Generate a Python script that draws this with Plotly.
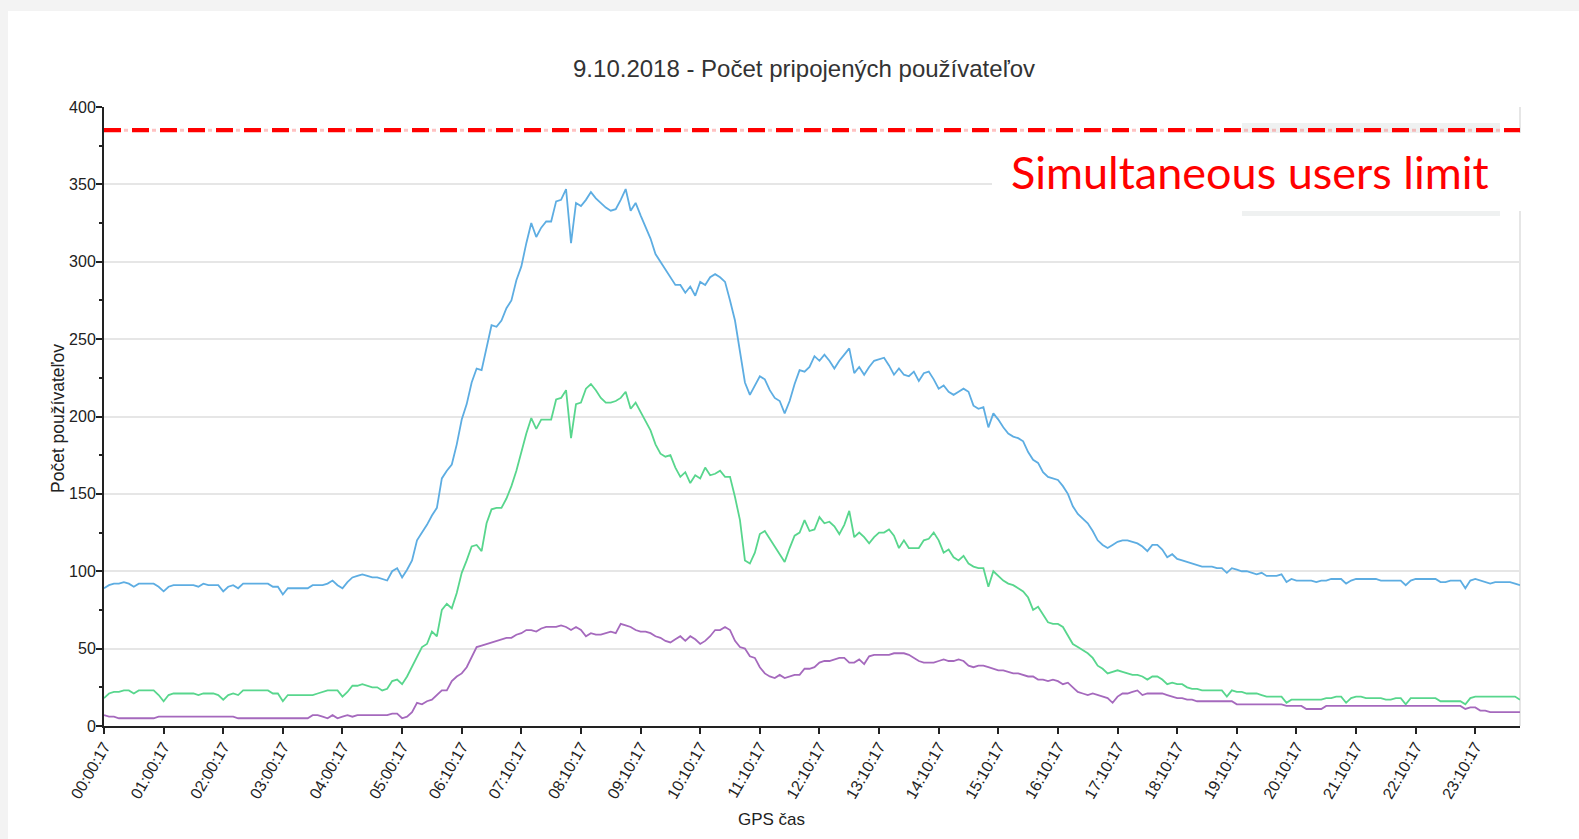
import plotly.graph_objects as go

# ---------------- data ----------------
# category timestamps (5-minute GPS samples; two samples missing around 05:40)
MISSING_MINUTES = [340, 345]
TIMES = [f"{m // 60:02d}:{m % 60:02d}:17" for m in range(0, 24 * 60, 5) if m not in MISSING_MINUTES]

TICK_LABELS = ["00:00:17", "01:00:17", "02:00:17", "03:00:17", "04:00:17", "05:00:17",
               "06:10:17", "07:10:17", "08:10:17", "09:10:17", "10:10:17", "11:10:17",
               "12:10:17", "13:10:17", "14:10:17", "15:10:17", "16:10:17", "17:10:17",
               "18:10:17", "19:10:17", "20:10:17", "21:10:17", "22:10:17", "23:10:17"]

BLUE = [
    89, 91, 92, 92, 93, 92, 90, 92, 92, 92, 92, 90,
    87, 90, 91, 91, 91, 91, 91, 90, 92, 91, 91, 91,
    87, 90, 91, 89, 92, 92, 92, 92, 92, 92, 90, 90,
    85, 89, 89, 89, 89, 89, 91, 91, 91, 92, 94, 91,
    89, 93, 96, 97, 98, 97, 96, 96, 95, 94, 100, 102,
    96, 101, 107, 120, 125, 130, 136, 141, 160, 165, 169, 182,
    198, 208, 222, 231, 230, 245, 259, 258, 262, 270, 275, 288,
    297, 312, 325, 316, 322, 326, 326, 339, 340, 347, 312, 338,
    336, 340, 345, 341, 338, 335, 333, 334, 340, 347, 333, 338,
    330, 322, 315, 305, 300, 295, 290, 285, 285, 280, 284, 278,
    287, 285, 290, 292, 290, 287, 275, 262, 242, 222, 214, 220,
    226, 224, 217, 212, 210, 202, 210, 221, 230, 229, 232, 239,
    236, 240, 236, 231, 236, 240, 244, 228, 232, 227, 232, 236,
    237, 238, 233, 227, 231, 227, 226, 229, 223, 228, 229, 224,
    218, 220, 216, 214, 216, 218, 216, 207, 205, 206, 193, 202,
    198, 193, 189, 187, 186, 184, 177, 172, 170, 164, 161, 160,
    159, 155, 150, 142, 137, 134, 131, 126, 120, 117, 115, 117,
    119, 120, 120, 119, 118, 116, 113, 117, 117, 114, 109, 111,
    108, 107, 106, 105, 104, 103, 103, 103, 102, 102, 99, 102,
    101, 100, 100, 99, 98, 99, 97, 97, 97, 98, 93, 95,
    94, 94, 94, 94, 93, 94, 94, 95, 95, 95, 92, 94,
    95, 95, 95, 95, 95, 94, 94, 94, 94, 94, 91, 94,
    95, 95, 95, 95, 95, 93, 93, 94, 94, 94, 89, 94,
    95, 94, 93, 92, 93, 93, 93, 93, 92, 91,
]

GREEN = [
    18, 21, 22, 22, 23, 23, 21, 23, 23, 23, 23, 20,
    16, 20, 21, 21, 21, 21, 21, 20, 21, 21, 21, 20,
    17, 20, 21, 20, 23, 23, 23, 23, 23, 23, 21, 21,
    16, 20, 20, 20, 20, 20, 20, 21, 22, 23, 23, 23,
    19, 22, 26, 26, 27, 26, 25, 25, 23, 24, 29, 30,
    27, 32, 38, 45, 51, 53, 61, 58, 75, 79, 76, 86,
    99, 107, 116, 117, 113, 131, 140, 141, 141, 147, 155, 165,
    177, 189, 199, 192, 198, 198, 198, 211, 212, 217, 186, 208,
    209, 218, 221, 217, 212, 209, 209, 210, 212, 216, 205, 209,
    203, 198, 191, 182, 176, 174, 175, 167, 161, 164, 157, 162,
    160, 167, 162, 163, 165, 161, 161, 148, 133, 107, 105, 112,
    124, 126, 121, 116, 111, 106, 115, 123, 125, 133, 126, 127,
    135, 131, 132, 129, 124, 130, 139, 122, 125, 122, 118, 122,
    125, 125, 127, 123, 115, 120, 115, 115, 115, 120, 121, 125,
    120, 112, 114, 109, 107, 110, 105, 103, 102, 102, 90, 100,
    97, 94, 92, 91, 89, 87, 83, 75, 77, 72, 67, 66,
    66, 64, 58, 53, 51, 49, 47, 44, 39, 37, 34, 35,
    36, 35, 34, 33, 33, 32, 30, 32, 32, 30, 27, 28,
    27, 27, 25, 24, 24, 23, 23, 23, 23, 23, 19, 23,
    22, 22, 21, 21, 21, 20, 19, 19, 19, 19, 15, 17,
    17, 17, 17, 17, 17, 17, 18, 18, 19, 19, 15, 18,
    19, 19, 18, 18, 18, 18, 17, 17, 18, 18, 14, 18,
    18, 18, 18, 18, 18, 16, 16, 16, 16, 16, 14, 18,
    19, 19, 19, 19, 19, 19, 19, 19, 19, 17,
]

PURPLE = [
    7, 6, 6, 5, 5, 5, 5, 5, 5, 5, 5, 6,
    6, 6, 6, 6, 6, 6, 6, 6, 6, 6, 6, 6,
    6, 6, 6, 5, 5, 5, 5, 5, 5, 5, 5, 5,
    5, 5, 5, 5, 5, 5, 7, 7, 6, 5, 7, 5,
    6, 7, 6, 7, 7, 7, 7, 7, 7, 7, 8, 8,
    5, 6, 9, 15, 14, 16, 17, 20, 23, 23, 29, 32,
    34, 38, 44, 51, 52, 53, 54, 55, 56, 57, 57, 59,
    60, 62, 62, 61, 63, 64, 64, 64, 65, 64, 62, 64,
    62, 58, 60, 59, 59, 60, 61, 60, 66, 65, 64, 62,
    61, 61, 60, 58, 57, 55, 54, 56, 58, 55, 58, 56,
    53, 55, 58, 62, 62, 64, 62, 55, 51, 50, 45, 44,
    38, 34, 32, 31, 33, 31, 32, 33, 33, 37, 37, 38,
    41, 42, 42, 43, 44, 44, 41, 41, 43, 40, 45, 46,
    46, 46, 46, 47, 47, 47, 46, 44, 42, 41, 41, 41,
    42, 43, 42, 42, 43, 42, 39, 38, 39, 39, 38, 37,
    36, 36, 35, 34, 34, 33, 32, 32, 30, 30, 29, 30,
    29, 27, 28, 25, 22, 21, 20, 21, 20, 19, 18, 15,
    19, 21, 21, 22, 23, 20, 21, 21, 21, 21, 20, 19,
    18, 18, 17, 17, 16, 16, 16, 16, 16, 16, 16, 16,
    14, 14, 14, 14, 14, 14, 14, 14, 14, 14, 13, 13,
    13, 13, 11, 11, 11, 11, 13, 13, 13, 13, 13, 13,
    13, 13, 13, 13, 13, 13, 13, 13, 13, 13, 13, 13,
    13, 13, 13, 13, 13, 13, 13, 13, 13, 13, 11, 12,
    12, 10, 10, 9, 9, 9, 9, 9, 9, 9,
]

USER_LIMIT = 385

TITLE = "9.10.2018 - Počet pripojených používateľov"
Y_TITLE = "Počet používateľov"
X_TITLE = "GPS čas"
LIMIT_TEXT = "Simultaneous users limit"

assert len(TIMES) == len(BLUE) == len(GREEN) == len(PURPLE)

# ---------------- figure ----------------
W, H = 1579, 839
L, R, T, B = 104, 59, 107, 113
FONT = "Liberation Sans, Arial, sans-serif"
AXC = "#222222"
GRID = "#e6e6e6"

fig = go.Figure()

for vals, col in [(BLUE, "#5dade2"), (GREEN, "#58d68d"), (PURPLE, "#a569bd")]:
    fig.add_trace(go.Scatter(x=TIMES, y=vals, mode="lines",
                             line=dict(color=col, width=1.8),
                             hoverinfo="x+y", showlegend=False))

# limit line: pale dots between red dashes
lim_x = [TIMES[0], TIMES[-1]]
lim_y = [USER_LIMIT, USER_LIMIT]
fig.add_trace(go.Scatter(x=lim_x, y=lim_y, mode="lines", cliponaxis=False,
                         line=dict(color="rgba(255,80,80,0.35)", width=3, dash="0px,20px,4px,4px"),
                         hoverinfo="skip", showlegend=False))
fig.add_trace(go.Scatter(x=lim_x, y=lim_y, mode="lines", cliponaxis=False,
                         line=dict(color="#ff0000", width=4.3, dash="17px,11px"),
                         hoverinfo="skip", showlegend=False))

pw = W - L - R
ph = H - T - B


def px(xpix):
    return (xpix - L) / pw


def py(ypix):
    return (H - B - ypix) / ph


shapes = [
    # white card on grey page background
    dict(type="rect", xref="paper", yref="paper", x0=px(8), x1=px(W + 5), y0=py(H + 5), y1=py(11),
         fillcolor="white", line=dict(width=0), layer="below"),
    # right border of plot area
    dict(type="line", xref="paper", yref="paper", x0=1, x1=1, y0=0, y1=1,
         line=dict(color=GRID, width=2), layer="below"),
    # grey strips left over around pasted label box
    dict(type="rect", xref="paper", yref="paper", x0=px(1242), x1=px(1500), y0=py(133), y1=py(123),
         fillcolor="#eff1f1", line=dict(width=0), layer="below"),
    dict(type="rect", xref="paper", yref="paper", x0=px(1242), x1=px(1500), y0=py(216), y1=py(211),
         fillcolor="#eff1f1", line=dict(width=0), layer="below"),
    # white box behind the limit label
    dict(type="rect", xref="paper", yref="paper", x0=px(992), x1=px(1530), y0=py(211), y1=py(133),
         fillcolor="white", line=dict(width=0), layer="above"),
]

annotations = [
    dict(text=LIMIT_TEXT, xref="paper", yref="paper", x=px(1250), y=py(172),
         xanchor="center", yanchor="middle", showarrow=False,
         font=dict(family="Lato, Noto Sans, sans-serif", size=45, color="#ff0000")),
    dict(text=Y_TITLE, xref="paper", yref="paper", x=px(58), y=py(419), textangle=-90,
         xanchor="center", yanchor="middle", showarrow=False,
         font=dict(family=FONT, size=17.5, color=AXC)),
    dict(text=X_TITLE, xref="paper", yref="paper", x=px(771), y=py(819),
         xanchor="center", yanchor="middle", showarrow=False,
         font=dict(family=FONT, size=17, color=AXC)),
]

fig.update_layout(
    width=W, height=H,
    margin=dict(l=L, r=R, t=T, b=B, pad=0),
    paper_bgcolor="#f3f3f3",
    plot_bgcolor="white",
    showlegend=False,
    title=dict(text=TITLE, x=px(804), xref="paper", xanchor="center",
               y=1 - 68.4 / H, yref="container", yanchor="middle",
               font=dict(family=FONT, size=24, color="#333333")),
    shapes=shapes,
    annotations=annotations,
    xaxis=dict(
        type="category", range=[0, len(TIMES) - 1],
        tickmode="array", tickvals=TICK_LABELS, ticktext=TICK_LABELS,
        tickangle=-60, ticks="outside", ticklen=6, tickwidth=1.5, tickcolor=AXC,
        ticklabelstandoff=-3,
        showline=True, linecolor=AXC, linewidth=2, showgrid=False, zeroline=False,
        tickfont=dict(family=FONT, size=16, color=AXC),
    ),
    yaxis=dict(
        range=[0, 400], tickmode="linear", tick0=0, dtick=50,
        ticks="outside", ticklen=6, tickwidth=1.5, tickcolor=AXC,
        ticklabelstandoff=-3,
        showline=True, linecolor=AXC, linewidth=2,
        showgrid=True, gridcolor=GRID, gridwidth=2, zeroline=False,
        tickfont=dict(family=FONT, size=16, color=AXC),
        minor=dict(dtick=25, tick0=0, ticks="outside", ticklen=3, tickwidth=1.5,
                   tickcolor=AXC, showgrid=False),
    ),
)

fig.write_html("out.html", config={"displayModeBar": False},
               post_script="document.body.style.margin='0';document.body.style.overflow='hidden';")
